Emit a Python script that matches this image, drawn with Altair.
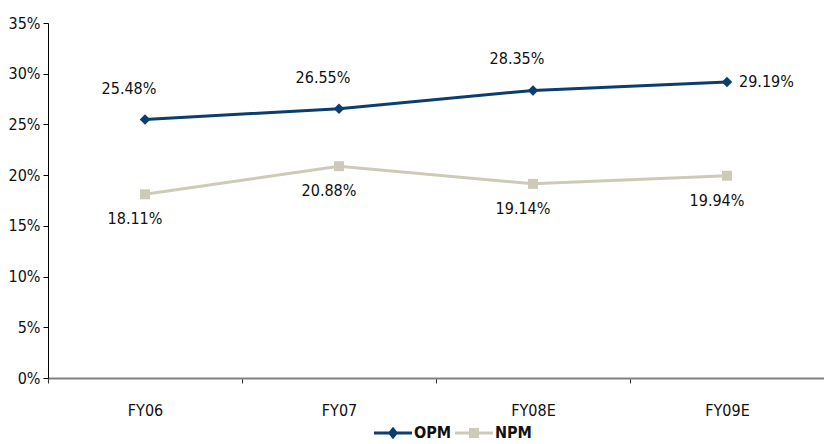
import altair as alt
import pandas as pd

categories = ["FY06", "FY07", "FY08E", "FY09E"]
opm = [0.2548, 0.2655, 0.2835, 0.2919]
npm = [0.1811, 0.2088, 0.1914, 0.1994]
series_names = ["OPM", "NPM"]
y_ticks = [0, 0.05, 0.10, 0.15, 0.20, 0.25, 0.30, 0.35]

FONT = "DejaVu Sans Condensed, Liberation Sans, sans-serif"
FS = 16
NAVY = "#0B3D6E"
BEIGE = "#CDCBB7"

rows = []
for name, vals in zip(series_names, [opm, npm]):
    for c, v in zip(categories, vals):
        rows.append({"cat": c, "series": name, "value": v})
df = pd.DataFrame(rows)

x_enc = alt.X("cat:N", sort=categories, title=None,
              scale=alt.Scale(paddingInner=0, paddingOuter=0),
              axis=alt.Axis(labelAngle=0, tickBand="extent", domainColor="#808080",
                            domainWidth=2, tickColor="#333333", tickSize=5,
                            labelPadding=19, labelFontSize=FS, labelFont=FONT,
                            labelColor="#111111"))
y_enc = alt.Y("value:Q", title=None,
              scale=alt.Scale(domain=[0, 0.35], nice=False, zero=True),
              axis=alt.Axis(values=y_ticks, format=".0%", grid=False,
                            domainColor="#000000", tickColor="#000000", tickSize=5,
                            labelFontSize=FS, labelFont=FONT, labelColor="#111111",
                            labelPadding=3))

color_scale = alt.Scale(domain=series_names, range=[NAVY, BEIGE])

base = alt.Chart(df).encode(x=x_enc, y=y_enc)
opm_base = base.transform_filter(alt.datum.series == "OPM")
npm_base = base.transform_filter(alt.datum.series == "NPM")

opm_line = opm_base.mark_line(strokeWidth=3, color=NAVY)
npm_line = npm_base.mark_line(strokeWidth=3, color=BEIGE)

opm_pts = opm_base.mark_point(filled=True, opacity=1, size=110, color=NAVY).encode(
    shape=alt.value("diamond"))
npm_pts = npm_base.mark_square(filled=True, opacity=1, size=100, color=BEIGE)

lbl_fmt = ".2%"
opm_lbl = opm_base.transform_filter(alt.datum.cat != "FY09E").mark_text(
    font=FONT, fontSize=FS, color="#111111", dy=-31, dx=-16).encode(
    text=alt.Text("value:Q", format=lbl_fmt))
opm_lbl_last = opm_base.transform_filter(alt.datum.cat == "FY09E").mark_text(
    font=FONT, fontSize=FS, color="#111111", align="left", dx=12).encode(
    text=alt.Text("value:Q", format=lbl_fmt))
npm_lbl = npm_base.mark_text(
    font=FONT, fontSize=FS, color="#111111", dy=25, dx=-10).encode(
    text=alt.Text("value:Q", format=lbl_fmt))

opm_path = "M-1,-0.08H1V0.08H-1Z M0,-0.33L0.27,0L0,0.33L-0.27,0Z"
npm_path = "M-1,-0.08H1V0.08H-1Z M-0.26,-0.26H0.26V0.26H-0.26Z"
legend = alt.Legend(orient="none", legendX=326, legendY=391, direction="horizontal",
                    title=None, symbolSize=1444, symbolOpacity=1, symbolStrokeWidth=0,
                    labelFont=FONT, labelFontSize=FS, labelFontWeight="bold",
                    labelColor="#111111", labelOffset=2, columnPadding=3, padding=0)
legend_layer = base.mark_point(filled=True, opacity=0).encode(
    color=alt.Color("series:N", scale=color_scale, legend=legend),
    shape=alt.Shape("series:N", scale=alt.Scale(domain=series_names,
                                                range=[opm_path, npm_path]),
                    legend=legend),
)

chart = alt.layer(opm_line, npm_line, opm_pts, npm_pts, opm_lbl, opm_lbl_last,
                  npm_lbl, legend_layer).properties(
    width=776, height=355,
    autosize=alt.AutoSizeParams(type="none"),
    padding={"left": 48, "top": 23, "right": 0, "bottom": 66},
).configure(background="white").configure_view(stroke=None)

chart.save("out.html", embed_options={"renderer": "svg", "actions": False})
